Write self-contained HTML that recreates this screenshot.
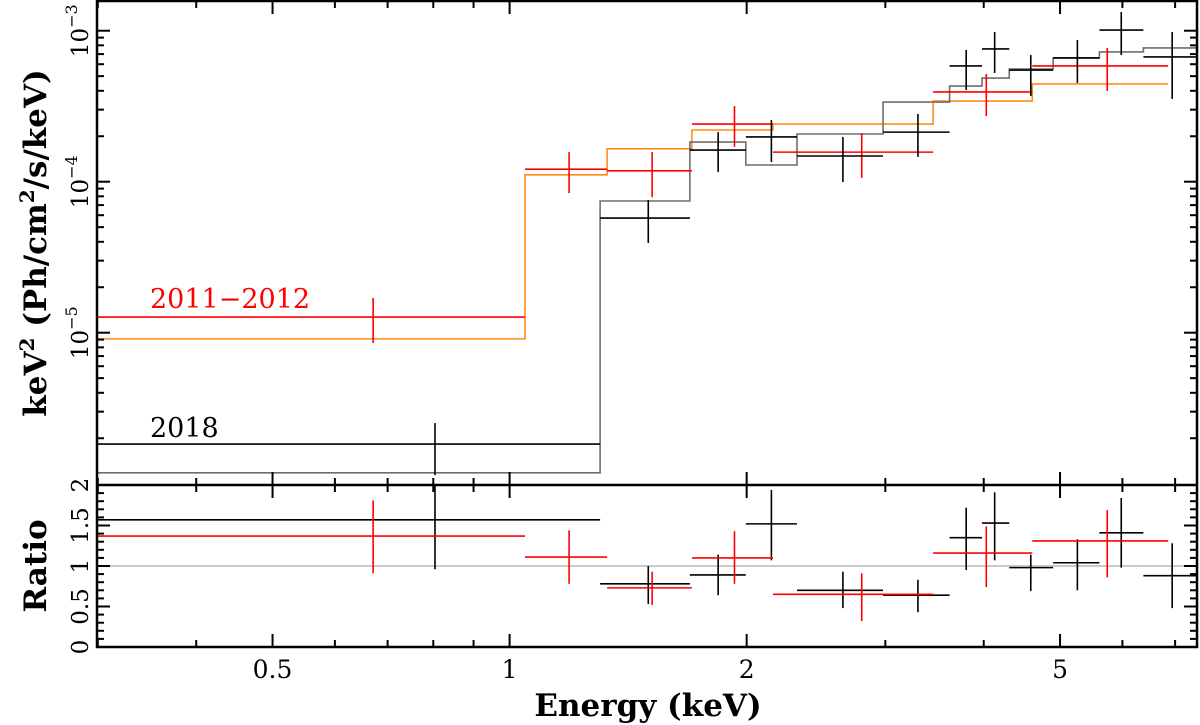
<!DOCTYPE html>
<html><head><meta charset="utf-8"><style>
html,body{margin:0;padding:0;background:#fff;}
svg{display:block;font-family:"DejaVu Serif","Liberation Serif",serif;}
</style></head><body>
<svg id="chart" width="1200" height="725" viewBox="0 0 1200 725" xmlns="http://www.w3.org/2000/svg">
<g id="gtop"></g>
<g id="gbot"></g>
<g id="gaxes"></g>
<text x="150" y="308" font-size="27" fill="#ff0000">2011−2012</text>
<text x="150" y="437" font-size="27" fill="#000">2018</text>
<text x="648" y="716" font-size="31" text-anchor="middle" font-weight="bold">Energy (keV)</text>
<text transform="translate(46,243) rotate(-90)" font-size="31" text-anchor="middle" font-weight="bold">keV<tspan dy="-12" font-size="20">2</tspan><tspan dy="12"> (Ph/cm</tspan><tspan dy="-12" font-size="20">2</tspan><tspan dy="12">/s/keV)</tspan></text>
<text transform="translate(46,566) rotate(-90)" font-size="31" text-anchor="middle" font-weight="bold">Ratio</text>
</svg>
<script>
// ---- data ----
const redEdges=[0.299,1.046,1.33,1.704,2.16,3.45,4.61,6.86];
const redCenters=[0.671,1.19,1.517,1.93,2.80,4.03,5.74];
const redFlux=[1.27e-5,1.21e-4,1.18e-4,2.41e-4,1.57e-4,3.93e-4,5.84e-4];
const redFluxHi=[1.70e-5,1.57e-4,1.57e-4,3.17e-4,2.10e-4,5.17e-4,7.68e-4];
const redFluxLo=[8.55e-6,8.4e-5,7.9e-5,1.70e-4,1.06e-4,2.72e-4,3.99e-4];
const redModel=[9.1e-6,1.11e-4,1.65e-4,2.20e-4,2.41e-4,3.42e-4,4.44e-4];
const redRatio=[1.37,1.11,0.73,1.10,0.65,1.16,1.31];
const redRatioHi=[1.81,1.44,0.93,1.43,0.91,1.49,1.69];
const redRatioLo=[0.91,0.78,0.52,0.78,0.32,0.74,0.86];
const blkEdges=[0.299,1.303,1.694,1.995,2.317,2.98,3.62,3.98,4.31,4.90,5.61,6.38,7.46];
const blkCenters=[0.804,1.50,1.84,2.15,2.65,3.30,3.80,4.13,4.59,5.26,5.98,6.94];
const blkFlux=[1.83e-6,5.74e-5,1.62e-4,1.98e-4,1.48e-4,2.13e-4,5.84e-4,7.57e-4,5.49e-4,6.60e-4,1.01e-3,6.70e-4];
const blkFluxHi=[2.52e-6,7.56e-5,2.13e-4,2.56e-4,1.98e-4,2.81e-4,7.45e-4,9.8e-4,6.90e-4,8.68e-4,1.33e-3,9.8e-4];
const blkFluxLo=[1.14e-6,3.93e-5,1.16e-4,1.35e-4,9.95e-5,1.46e-4,4.05e-4,5.25e-4,3.70e-4,4.51e-4,6.90e-4,3.53e-4];
const blkModel=[1.18e-6,7.45e-5,1.83e-4,1.29e-4,2.07e-4,3.37e-4,4.30e-4,4.86e-4,5.57e-4,6.60e-4,7.23e-4,7.69e-4];
const blkRatio=[1.57,0.78,0.89,1.52,0.70,0.64,1.35,1.53,0.98,1.04,1.41,0.88];
const blkRatioHi=[1.99,1.0,1.14,1.94,0.93,0.83,1.72,1.91,1.14,1.33,1.84,1.28];
const blkRatioLo=[0.96,0.53,0.64,1.07,0.48,0.43,0.95,1.07,0.69,0.70,0.98,0.48];
const xMajor=[0.5,1,2,5];
const xMajorLabels=["0.5","1","2","5"];
const xMinor=[0.3,0.4,0.6,0.7,0.8,0.9,3,4,6,7];
const yDecades=[-6,-5,-4,-3];
const yDecadeLabels=["","10","10","10"];
const yExpLabels=["","−5","−4","−3"];
const rMajor=[0,0.5,1,1.5,2];
const rMajorLabels=["0","0.5","1","1.5","2"];

// ---- scales ----
const L=97,R=1197,T=1,MID=485,B=647;
const X=e=>509.6+787.5*Math.log10(e);
const Y=f=>30.7+151*(-3-Math.log10(f));
const YR=r=>647-81*r;
const NS="http://www.w3.org/2000/svg";
function mk(parent,tag,attrs){const el=document.createElementNS(NS,tag);for(const k in attrs)el.setAttribute(k,attrs[k]);parent.appendChild(el);return el;}
const gTop=document.getElementById('gtop'),gBot=document.getElementById('gbot'),gAxes=document.getElementById('gaxes');
const clipTop=mk(document.getElementById('chart'),'clipPath',{id:'ct'});mk(clipTop,'rect',{x:L,y:T,width:R-L,height:MID-T});
gTop.setAttribute('clip-path','url(#ct)');

function stepPath(edges,vals,fy){let d='';for(let i=0;i<vals.length;i++){const y=fy(vals[i]);d+=(i===0?'M':'L')+X(edges[i])+','+y+'L'+X(edges[i+1])+','+y;}return d;}
function model(g,edges,vals,color,name){
  const p=mk(g,'path',{d:stepPath(edges,vals,Y),fill:'none',stroke:color,'stroke-width':1.6});
  
  
}
function crosses(g,edges,c,v,hi,lo,fy,color,name){
  for(let i=0;i<v.length;i++){
    const gg=mk(g,'g',{stroke:color,'stroke-width':1.6});
    
    
    mk(gg,'line',{x1:X(edges[i]),x2:Math.min(X(edges[i+1]),R),y1:fy(v[i]),y2:fy(v[i])});
    mk(gg,'line',{x1:X(c[i]),x2:X(c[i]),y1:fy(hi[i]),y2:fy(lo[i])});
  }
}
model(gTop,redEdges,redModel,'#ff8c1a','model-2011-2012');
model(gTop,blkEdges,blkModel,'#6e6e6e','model-2018');
crosses(gTop,redEdges,redCenters,redFlux,redFluxHi,redFluxLo,Y,'#ff0000','data-2011-2012');
crosses(gTop,blkEdges,blkCenters,blkFlux,blkFluxHi,blkFluxLo,Y,'#000','data-2018');
// ratio
const one=mk(gBot,'line',{x1:L,x2:R,y1:YR(1),y2:YR(1),stroke:'#aaa','stroke-width':1.2});


crosses(gBot,blkEdges,blkCenters,blkRatio,blkRatioHi,blkRatioLo,YR,'#000','ratio-2018');
crosses(gBot,redEdges,redCenters,redRatio,redRatioHi,redRatioLo,YR,'#ff0000','ratio-2011-2012');

// ---- axes ----
const frame=mk(gAxes,'path',{d:`M${L},${T}H${R}V${B}H${L}Z M${L},${MID}H${R}`,fill:'none',stroke:'#000','stroke-width':2.5});


function tick(x1,y1,x2,y2){mk(gAxes,'line',{x1,y1,x2,y2,stroke:'#000','stroke-width':2});}
xMajor.forEach((e,i)=>{const x=X(e);
  [[T,1],[MID,-1],[MID,1],[B,-1]].forEach(([y,s])=>tick(x,y,x,y+s*13));
  const t=mk(gAxes,'text',{x:x,y:678,'font-size':25,'text-anchor':'middle'});t.textContent=xMajorLabels[i];
  
  
});
xMinor.forEach(e=>{const x=X(e);if(x<L||x>R)return;
  [[T,1],[MID,-1],[MID,1],[B,-1]].forEach(([y,s])=>tick(x,y,x,y+s*7));});
yDecades.forEach((d,i)=>{
  const y=Y(Math.pow(10,d));
  if(y>T&&y<MID-5){tick(L,y,L+13,y);tick(R,y,R-13,y);
    if(yDecadeLabels[i]){
    const t=mk(gAxes,'text',{transform:`translate(88,${y}) rotate(-90)`,'font-size':23,'text-anchor':'middle'});
    
    
    const a=mk(t,'tspan',{});a.textContent=yDecadeLabels[i];
    const b=mk(t,'tspan',{dy:-11,'font-size':16});b.textContent=yExpLabels[i];}}
  for(let m=2;m<=9;m++){const yy=Y(m*Math.pow(10,d));if(yy>T&&yy<MID){tick(L,yy,L+7,yy);tick(R,yy,R-7,yy);}}
});
for(let k=0;k<=20;k++){const r=k/10,y=YR(r),len=(k%5===0)?13:7;tick(L,y,L+len,y);tick(R,y,R-len,y);}
rMajor.forEach((r,i)=>{const t=mk(gAxes,'text',{transform:`translate(88,${YR(r)}) rotate(-90)`,'font-size':23,'text-anchor':'middle'});
  t.textContent=rMajorLabels[i];
  
  });
</script>
</body></html>
